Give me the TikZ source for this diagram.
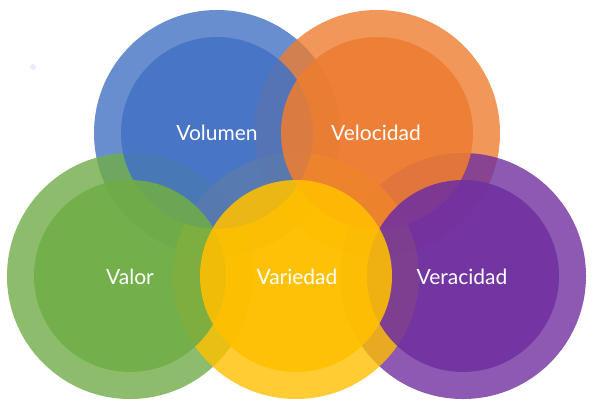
\documentclass[tikz,border=0pt]{standalone}
\usepackage{fontspec}
\setmainfont{Lato}
\definecolor{cblue}{HTML}{4472C4}
\definecolor{corange}{HTML}{ED7D31}
\definecolor{cgreen}{HTML}{70AD47}
\definecolor{cyellow}{HTML}{FFC000}
\definecolor{cpurple}{HTML}{7030A0}
\begin{document}
\begin{tikzpicture}[x=1pt,y=-1pt,
  outerc/.style={fill=#1, fill opacity=0.8, draw=none},
  innerc/.style={fill=#1, fill opacity=0.88, draw=none},
  lbl/.style={text=white, font=\fontsize{21}{24}\selectfont, inner sep=0pt}]
\useasboundingbox (0,0) rectangle (596,408);
\fill[fill=blue!8] (33,67) circle (3);
% outer rings
\fill[outerc=cblue] (217,133) circle (123);
\fill[outerc=corange] (377,133) circle (123);
\fill[outerc=cgreen] (130,276) circle (123);
\fill[outerc=cpurple] (463,276) circle (123);
\fill[outerc=cyellow] (296,276) circle (123);
% inner discs
\fill[innerc=cblue] (217,133) circle (96);
\fill[innerc=corange] (377,133) circle (96);
\fill[innerc=cgreen] (130,276) circle (96);
\fill[innerc=cpurple] (463,276) circle (96);
\fill[innerc=cyellow] (296,276) circle (96);
\node[lbl] (volumen) at (217,133) {Volumen};
\node[lbl] (velocidad) at (376,133) {Velocidad};
\node[lbl] (valor) at (130,277) {Valor};
\node[lbl] (variedad) at (297,277) {Variedad};
\node[lbl] (veracidad) at (462,277) {Veracidad};
\end{tikzpicture}
\end{document}
